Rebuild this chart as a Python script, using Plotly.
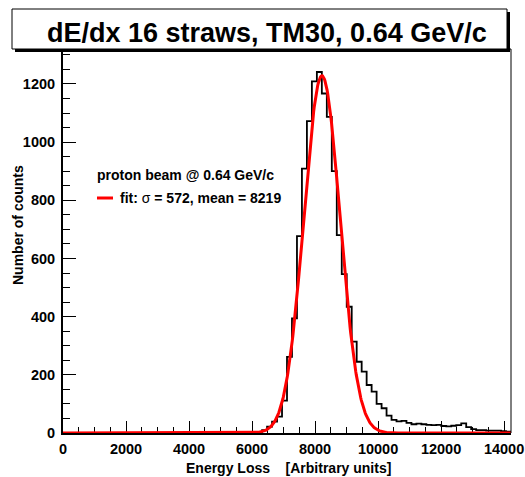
import numpy as np
import plotly.graph_objects as go

# ------------------------------------------------------------------
# Data
# ------------------------------------------------------------------
BIN_WIDTH = 158          # arbitrary units per bin
N_BINS = 90
FIRST_BIN = 37           # bins before this are empty
COUNTS = [
    1, 2, 4, 10, 22, 39, 56, 111, 262, 394,
    677, 909, 1072, 1209, 1241, 1167, 1087, 900, 680, 546,
    434, 314, 245, 211, 165, 142, 100, 85, 60, 45,
    40, 42, 35, 30, 32, 30, 28, 27, 28, 24,
    23, 25, 27, 33, 20, 13, 10, 10, 8, 8,
    8, 6, 5,
]

# Gaussian fit shown in the legend
FIT_MEAN = 8219
FIT_SIGMA = 572
FIT_AMP = 1228

TITLE = "dE/dx 16 straws, TM30, 0.64 GeV/c"
LEGEND_HEAD = "proton beam @ 0.64 GeV/c"
LEGEND_FIT = "<b>fit: </b>σ<b> = 572, mean = 8219</b>"
X_TITLE = "Energy Loss\u00a0\u00a0\u00a0\u00a0[Arbitrary units]"
Y_TITLE = "Number of counts"

X_RANGE = [0, 14220]
Y_RANGE = [0, 1320]

# ------------------------------------------------------------------
# Geometry
# ------------------------------------------------------------------
W, H = 525, 477
ML, MR, MT, MB = 63, 14, 49, 44
PW, PH = W - ML - MR, H - MT - MB


def px(p):   # pixel x -> paper x
    return (p - ML) / PW


def py(p):   # pixel y -> paper y
    return (H - MB - p) / PH


FONT = "Liberation Sans, Arial, sans-serif"

# ------------------------------------------------------------------
# Traces
# ------------------------------------------------------------------
full = np.zeros(N_BINS)
full[FIRST_BIN:FIRST_BIN + len(COUNTS)] = COUNTS
edges = np.arange(N_BINS + 1) * BIN_WIDTH
step_y = np.append(full, full[-1])

xf = np.linspace(X_RANGE[0], X_RANGE[1], 800)
yf = FIT_AMP * np.exp(-0.5 * ((xf - FIT_MEAN) / FIT_SIGMA) ** 2)

fig = go.Figure()
fig.add_trace(go.Scatter(x=edges, y=step_y, mode="lines", line_shape="hv",
                         line=dict(color="black", width=1.8), showlegend=False))
fig.add_trace(go.Scatter(x=xf, y=yf, mode="lines",
                         line=dict(color="#ff0000", width=3), showlegend=False))

# ------------------------------------------------------------------
# Axes
# ------------------------------------------------------------------
tickfont = dict(family=FONT, size=14.5, color="black", weight="bold")
common = dict(ticks="inside", tickwidth=1, tickcolor="black", showline=True,
              linecolor="black", linewidth=2, showgrid=False, zeroline=False,
              tickfont=tickfont, tickformat="d", automargin=False)
# x axis under the traces so the red fit line shows along the baseline
fig.update_xaxes(range=X_RANGE, dtick=2000, tick0=0, ticklen=12,
                 ticklabelstandoff=2, layer="below traces", **common,
                 minor=dict(dtick=500, ticks="inside", ticklen=6, tickcolor="black",
                            showgrid=False))
fig.update_yaxes(range=Y_RANGE, dtick=200, tick0=0, ticklen=13,
                 ticklabelstandoff=3, **common,
                 minor=dict(dtick=50, ticks="inside", ticklen=7, tickcolor="black",
                            showgrid=False))

# ------------------------------------------------------------------
# Frame, title box, legend
# ------------------------------------------------------------------
shapes = [
    dict(type="line", xref="paper", yref="paper", x0=0, x1=1, y0=1, y1=1,
         line=dict(color="black", width=1), layer="above"),
    dict(type="line", xref="paper", yref="paper", x0=1, x1=1, y0=0, y1=1,
         line=dict(color="black", width=1), layer="above"),
    dict(type="rect", xref="paper", yref="paper", x0=px(15), x1=px(510),
         y0=py(52), y1=py(12), fillcolor="black", line=dict(width=0), layer="above"),
    dict(type="rect", xref="paper", yref="paper", x0=px(12), x1=px(507),
         y0=py(49), y1=py(9), fillcolor="white",
         line=dict(color="black", width=1), layer="above"),
    dict(type="line", xref="paper", yref="paper", x0=px(97), x1=px(113),
         y0=py(198), y1=py(198), line=dict(color="#ff0000", width=3), layer="above"),
]

bold = dict(family=FONT, color="black", weight="bold")
annotations = [
    dict(text=TITLE, x=px(267), y=py(33), font=dict(bold, size=27)),
    dict(text=LEGEND_HEAD, x=px(95), y=py(175), xanchor="left",
         font=dict(bold, size=14)),
    dict(text=LEGEND_FIT, x=px(118), y=py(198), xanchor="left",
         font=dict(family=FONT, color="black", size=14)),
    dict(text=Y_TITLE, x=px(18), y=py(225), textangle=-90, font=dict(bold, size=14)),
    dict(text=X_TITLE, x=px(288), y=py(468), font=dict(bold, size=14)),
]
for a in annotations:
    a.update(xref="paper", yref="paper", showarrow=False, yanchor="middle")
    a.setdefault("xanchor", "center")

fig.update_layout(
    width=W, height=H,
    margin=dict(l=ML, r=MR, t=MT, b=MB, autoexpand=False),
    paper_bgcolor="white", plot_bgcolor="white",
    shapes=shapes, annotations=annotations,
    showlegend=False,
)

# the page body has a default 8px margin; remove it so the figure fills the window
fig.write_html("out.html", config={"displayModeBar": False},
               post_script="document.body.style.margin='0';")
